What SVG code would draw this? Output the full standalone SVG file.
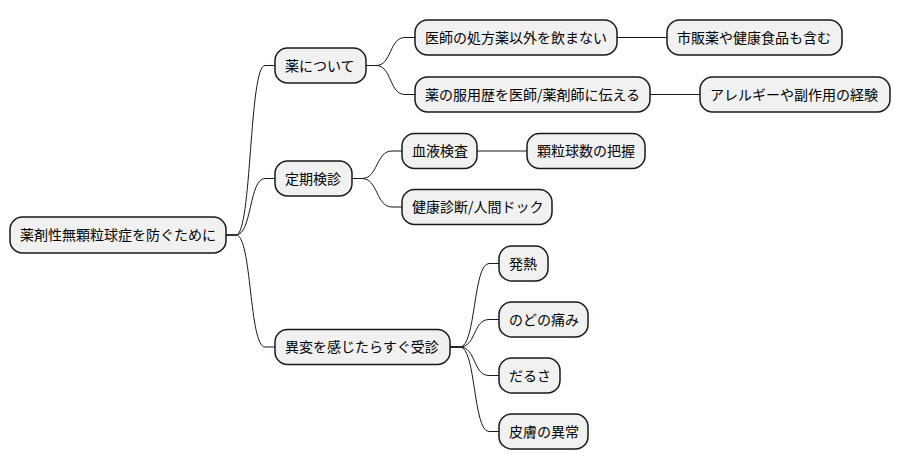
<svg xmlns="http://www.w3.org/2000/svg" width="899" height="471" viewBox="0 0 899 471">
<style>
.n rect{fill:#F1F1F1;stroke:#181818;stroke-width:1.5}
.n text{font-family:"Noto Sans CJK JP","Noto Sans",sans-serif;font-size:14px;fill:#000}
.c path{fill:none;stroke:#181818;stroke-width:1}
</style>
<rect width="899" height="471" fill="#fff"/>
<g class="c">
<path d="M226,235 L236,235 C252,235 249,65.5 265,65.5 L275,65.5"/>
<path d="M226,235 L236,235 C252,235 249,178.5 265,178.5 L275,178.5"/>
<path d="M226,235 L236,235 C252,235 249,347 265,347 L275,347"/>
<path d="M366,65.5 L376,65.5 C392,65.5 389,37.5 405,37.5 L415,37.5"/>
<path d="M366,65.5 L376,65.5 C392,65.5 389,94.5 405,94.5 L415,94.5"/>
<path d="M617,37.5 L667,37.5"/>
<path d="M650,94.5 L700,94.5"/>
<path d="M352,178.5 L362,178.5 C378,178.5 376,151 392,151 L402,151"/>
<path d="M352,178.5 L362,178.5 C378,178.5 376,207 392,207 L402,207"/>
<path d="M477,151 L527,151"/>
<path d="M450,347 L460,347 C476,347 473,263.5 489,263.5 L499,263.5"/>
<path d="M450,347 L460,347 C476,347 473,319.5 489,319.5 L499,319.5"/>
<path d="M450,347 L460,347 C476,347 473,375.5 489,375.5 L499,375.5"/>
<path d="M450,347 L460,347 C476,347 473,431.5 489,431.5 L499,431.5"/>
</g>
<g id="root" class="n"><rect x="10" y="217" width="216" height="36" rx="12.5"/><text x="20" y="240">薬剤性無顆粒球症を防ぐために</text></g>
<g id="kusuri" class="n"><rect x="275" y="48" width="91" height="35" rx="12.5"/><text x="285" y="70.5">薬について</text></g>
<g id="shoho" class="n"><rect x="415" y="20" width="202" height="35" rx="12.5"/><text x="425" y="42.5">医師の処方薬以外を飲まない</text></g>
<g id="shihan" class="n"><rect x="667" y="20" width="175" height="35" rx="12.5"/><text x="677" y="42.5">市販薬や健康食品も含む</text></g>
<g id="fukuyo" class="n"><rect x="415" y="77" width="235" height="35" rx="12.5"/><text x="425" y="99.5">薬の服用歴を医師/薬剤師に伝える</text></g>
<g id="allergy" class="n"><rect x="700" y="77" width="190" height="35" rx="12.5"/><text x="710" y="99.5">アレルギーや副作用の経験</text></g>
<g id="teiki" class="n"><rect x="275" y="161" width="77" height="35" rx="12.5"/><text x="285" y="183.5">定期検診</text></g>
<g id="ketsueki" class="n"><rect x="402" y="133.5" width="75" height="35" rx="12.5"/><text x="412" y="156">血液検査</text></g>
<g id="karyu" class="n"><rect x="527" y="133.5" width="118" height="35" rx="12.5"/><text x="537" y="156">顆粒球数の把握</text></g>
<g id="kenko" class="n"><rect x="402" y="189.5" width="150" height="35" rx="12.5"/><text x="412" y="212">健康診断/人間ドック</text></g>
<g id="ihen" class="n"><rect x="275" y="329.5" width="175" height="35" rx="12.5"/><text x="285" y="352">異変を感じたらすぐ受診</text></g>
<g id="hatsunetsu" class="n"><rect x="499" y="246" width="49" height="35" rx="12.5"/><text x="509" y="268.5">発熱</text></g>
<g id="nodo" class="n"><rect x="499" y="302" width="89" height="35" rx="12.5"/><text x="509" y="324.5">のどの痛み</text></g>
<g id="darusa" class="n"><rect x="499" y="358" width="61" height="35" rx="12.5"/><text x="509" y="380.5">だるさ</text></g>
<g id="hifu" class="n"><rect x="499" y="414" width="89" height="35" rx="12.5"/><text x="509" y="436.5">皮膚の異常</text></g>
</svg>
